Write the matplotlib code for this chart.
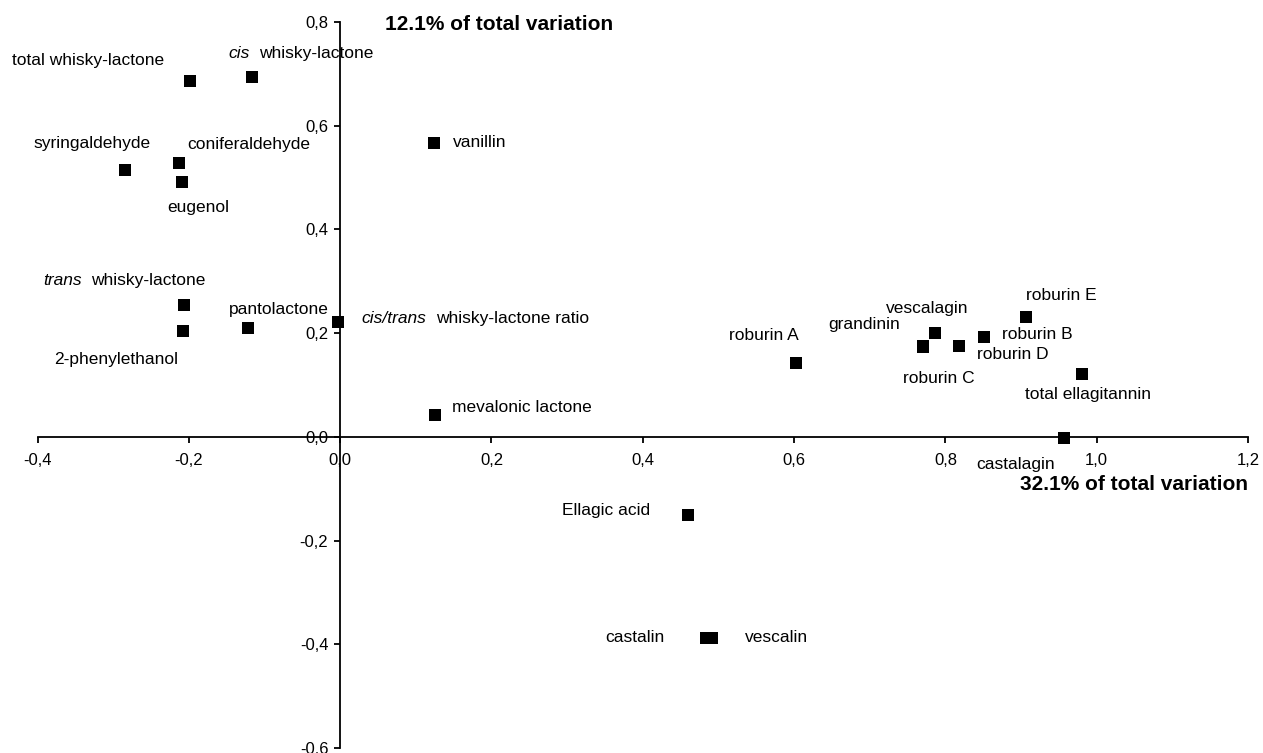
import numpy as np
import matplotlib
matplotlib.use("Agg")
import matplotlib.pyplot as plt
from matplotlib.ticker import FuncFormatter
from matplotlib.font_manager import FontProperties

plt.rcParams['font.family'] = ['Liberation Sans', 'DejaVu Sans']

# compound loadings on the two principal components
names = ['total whisky-lactone', 'whisky-lactone', 'vanillin',
         'syringaldehyde', 'coniferaldehyde', 'eugenol',
         'whisky-lactone', '2-phenylethanol', 'pantolactone',
         'whisky-lactone ratio', 'mevalonic lactone',
         'roburin A', 'grandinin', 'roburin C', 'vescalagin', 'roburin D',
         'roburin B', 'roburin E', 'total ellagitannin', 'castalagin',
         'Ellagic acid', 'castalin', 'vescalin']
# italic isomer prefix in front of some names
prefixes = ['', 'cis', '', '', '', '', 'trans', '', '', 'cis/trans', '',
            '', '', '', '', '', '', '', '', '', '', '', '']
pc1 = [-0.198, -0.116, 0.124, -0.285, -0.213, -0.209, -0.206, -0.208, -0.122,
       -0.003, 0.126, 0.602, 0.770, 0.771, 0.786, 0.818, 0.851, 0.906, 0.981,
       0.957, 0.460, 0.483, 0.491]
pc2 = [0.687, 0.693, 0.567, 0.515, 0.528, 0.492, 0.254, 0.204, 0.209, 0.221,
       0.042, 0.142, 0.175, 0.173, 0.200, 0.175, 0.193, 0.231, 0.121, -0.003,
       -0.150, -0.387, -0.387]

# label offsets from each marker (pixels)
offsets = [(-178, 20), (-24, 24), (19, 0), (-91, 26), (8, 19), (-15, -26),
           (-141, 25), (-129, -28), (-19, 19), (24, 4), (17, 8), (-67, 28),
           (-94, 22), (-20, -31), (-49, 25), (18, -8), (18, 2), (0, 22),
           (-57, -20), (-88, -26), (-126, 4), (-100, 0), (33, 0)]

xticks = np.arange(-0.4, 1.21, 0.2)
yticks = np.arange(-0.6, 0.81, 0.2)

fig = plt.figure(figsize=(12.63, 7.53), dpi=100)
ax = fig.add_axes([37.5 / 1263, 5 / 753, (1248 - 37.5) / 1263, (748 - 22) / 753])

ax.plot(pc1, pc2, 's', color='black', ms=8, mew=0, zorder=3, clip_on=False)

renderer = fig.canvas.get_renderer()
ital = FontProperties(family='Liberation Sans', style='italic', size=12.5)
for n, pre, x, y, (dx, dy) in zip(names, prefixes, pc1, pc2, offsets):
    if pre:
        ax.annotate(pre, (x, y), xytext=(dx, dy), textcoords='offset pixels',
                    ha='left', va='center', fontproperties=ital)
        w = renderer.get_text_width_height_descent(pre, ital, ismath=False)[0]
        dx += w + 9
    ax.annotate(n, (x, y), xytext=(dx, dy), textcoords='offset pixels',
                ha='left', va='center', fontsize=12.5)

ax.set_xlim(-0.4, 1.2)
ax.set_ylim(-0.6, 0.8)
ax.spines['left'].set_position(('data', 0))
ax.spines['bottom'].set_position(('data', 0))
ax.spines['top'].set_visible(False)
ax.spines['right'].set_visible(False)
for s in ['left', 'bottom']:
    ax.spines[s].set_linewidth(1.3)

ax.set_xticks(xticks)
ax.set_yticks(yticks)
comma = FuncFormatter(lambda v, p: ('%.1f' % v).replace('.', ',').replace('-0,0', '0,0'))
ax.xaxis.set_major_formatter(comma)
ax.yaxis.set_major_formatter(comma)
ax.tick_params(axis='both', direction='out', length=4.5, width=1.3, labelsize=12)
ax.tick_params(axis='x', pad=7)
ax.tick_params(axis='y', pad=4)
ax.patch.set_visible(False)

fig.text(385 / 1263, 1 - 24 / 753, '12.1% of total variation', fontsize=15,
         fontweight='bold', ha='left', va='center')
fig.text(1248 / 1263, 1 - 485 / 753, '32.1% of total variation', fontsize=15,
         fontweight='bold', ha='right', va='center')

fig.savefig('out.png', dpi=100)
